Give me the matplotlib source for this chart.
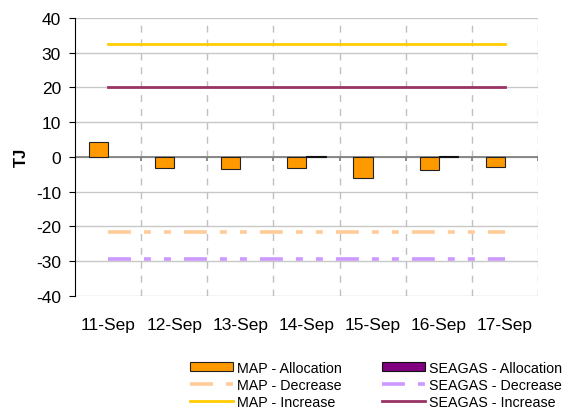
import numpy as np
import matplotlib.pyplot as plt
from matplotlib.patches import Patch

plt.rcParams['font.family'] = ['Liberation Sans', 'DejaVu Sans']
plt.rcParams['lines.scale_dashes'] = False
plt.rcParams['axes.unicode_minus'] = False

# data
dates = ['11-Sep', '12-Sep', '13-Sep', '14-Sep', '15-Sep', '16-Sep', '17-Sep']
map_alloc = [4.2, -3.2, -3.6, -3.2, -6.2, -3.8, -2.8]
seagas_alloc = [0, 0, 0, 0.3, 0, 0.3, 0]
map_decrease = [-21.5] * 7
seagas_decrease = [-29.5] * 7
map_increase = [32.5] * 7
seagas_increase = [20] * 7

x = np.arange(len(dates))
w = 0.29

fig = plt.figure(figsize=(5.68, 4.10), dpi=100)
ax = fig.add_axes([0.132, 0.276, 0.815, 0.678])

# grid
ax.set_ylim(-40, 40)
ax.set_xlim(-0.5, len(dates) - 0.5)
ax.set_yticks(np.arange(-40, 41, 10))
for yv in np.arange(-40, 41, 10):
    ax.axhline(yv, color='#c8c8c8', lw=1, zorder=0)
for xb in np.arange(0.5, len(dates), 1):
    ax.axvline(xb, color='#c0c0c0', lw=1, ls=(0, (5, 5)), zorder=0)

dd = (0, (16.5, 9.4, 5, 9.4, 5, 9.4))
ax.plot(x, map_decrease, color='#FFCC99', lw=2.6, ls=dd, label='MAP - Decrease', zorder=2)
ax.plot(x, seagas_decrease, color='#CC99FF', lw=2.6, ls=dd, label='SEAGAS - Decrease', zorder=2)
ax.plot(x, map_increase, color='#FFCC00', lw=2, label='MAP - Increase', zorder=2)
ax.plot(x, seagas_increase, color='#993366', lw=2, label='SEAGAS - Increase', zorder=2)

# zero axis line with boundary ticks
ax.axhline(0, color='#808080', lw=1.3, zorder=2.5)
ax.vlines(np.arange(0.5, len(dates), 1), -1.2, 0, color='#808080', lw=1.3, zorder=2.5)

ax.bar(x - w / 2, map_alloc, w, color='#FF9900', edgecolor='#222222', lw=0.8,
       label='MAP - Allocation', zorder=3)
sg_lw = [0.8 if v != 0 else 0 for v in seagas_alloc]
ax.bar(x + w / 2, seagas_alloc, w, color='#800080', edgecolor='#111111', lw=sg_lw,
       zorder=3)

for s in ['top', 'right', 'bottom']:
    ax.spines[s].set_visible(False)
ax.spines['left'].set_color('black')
ax.set_xticks(x)
ax.set_xticklabels(dates, fontsize=12.5)
ax.tick_params(axis='x', length=0, pad=15)
ax.tick_params(axis='y', labelsize=12.5, length=4, direction='out', pad=6)
ax.set_ylabel('TJ', fontsize=12, fontweight='bold', labelpad=5)

h, l = ax.get_legend_handles_labels()
hd = dict(zip(l, h))
hd['SEAGAS - Allocation'] = Patch(facecolor='#800080', edgecolor='#111111', lw=0.8)
order = ['MAP - Allocation', 'MAP - Decrease', 'MAP - Increase',
         'SEAGAS - Allocation', 'SEAGAS - Decrease', 'SEAGAS - Increase']
fig.legend([hd[k] for k in order], order, ncol=2, frameon=False, fontsize=10.3,
           loc='upper left', bbox_to_anchor=(0.334, 0.118), handlelength=3.05,
           handleheight=0.55, labelspacing=0.22, columnspacing=2.8, handletextpad=0.25,
           borderaxespad=0, borderpad=0)

fig.savefig('out.png', dpi=100)
